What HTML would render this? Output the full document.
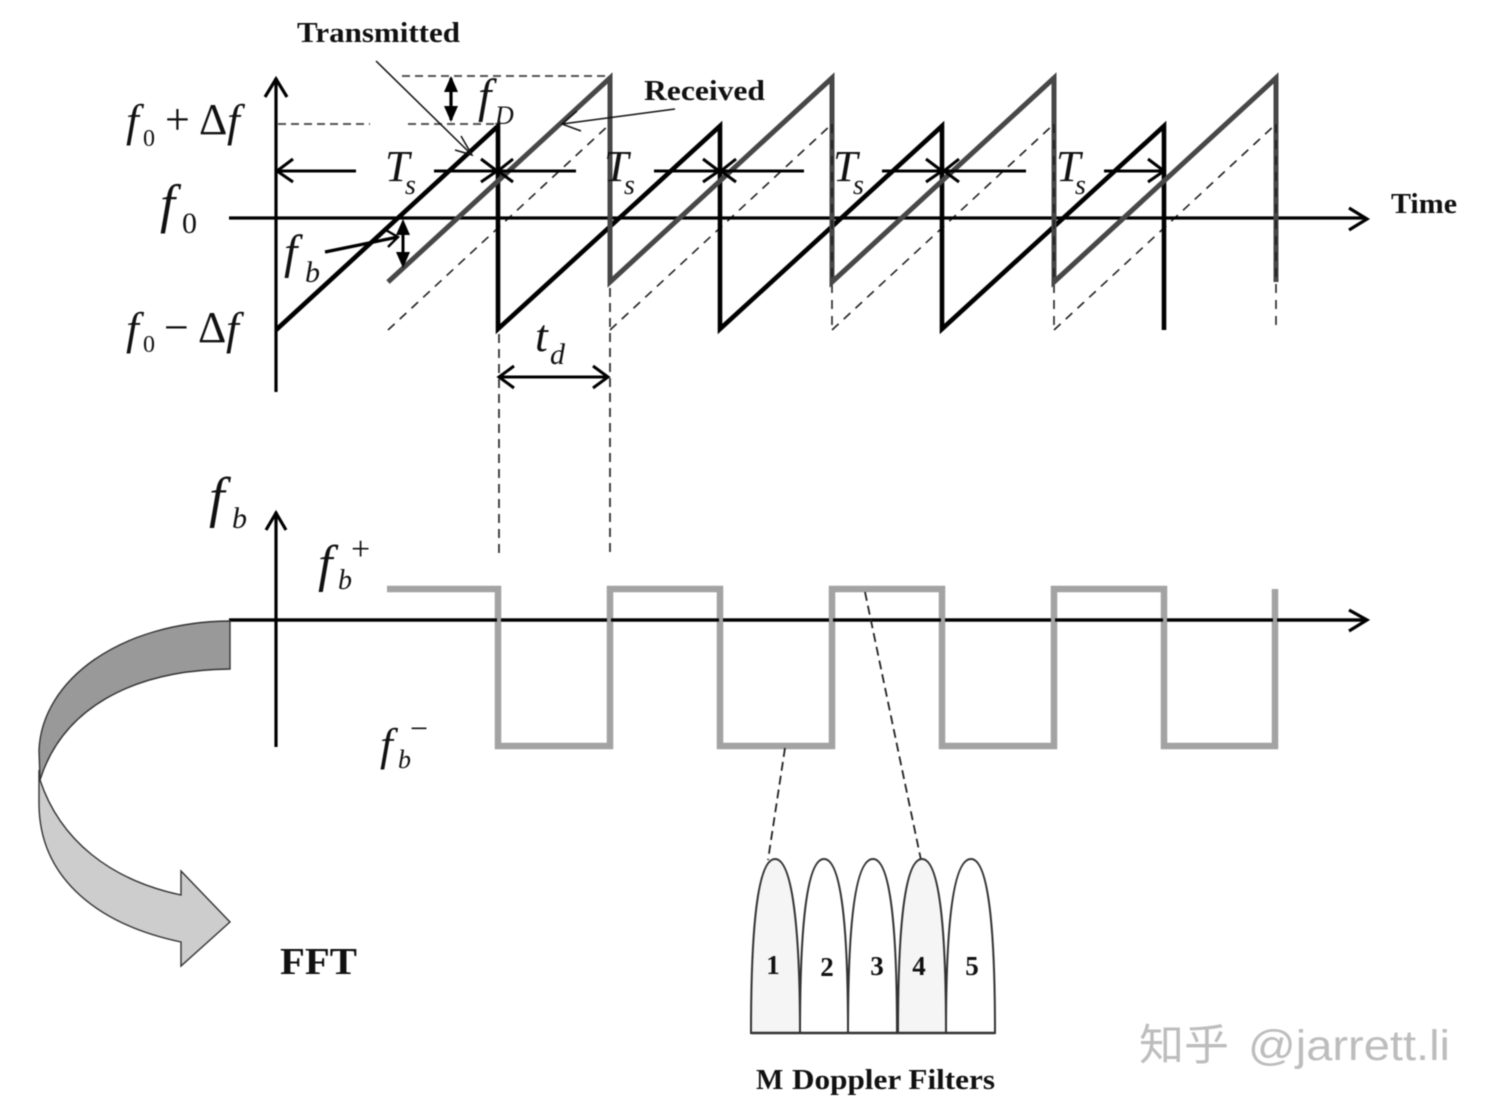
<!DOCTYPE html>
<html><head><meta charset="utf-8">
<style>
html,body{margin:0;padding:0;background:#fff}
svg{display:block;filter:blur(0.45px)}
text{font-family:"Liberation Serif",serif;fill:#111}
.i{font-style:italic}
.b{font-weight:bold}
.wm{font-family:"Liberation Sans","Noto Sans CJK SC",sans-serif;fill:#bdbdbd}
</style></head>
<body>
<svg width="1487" height="1113" viewBox="0 0 1487 1113" xmlns="http://www.w3.org/2000/svg">
<rect width="1487" height="1113" fill="#fff"/>

<!-- thin dashed sawtooth -->
<g fill="none" stroke="#222" stroke-width="1.6" stroke-dasharray="9 7">
<path d="M388 330L610 124"/>
<path d="M610 330L832 124"/>
<path d="M832 330L1054 124"/>
<path d="M1054 330L1276 124"/>
<path d="M832 284V330M1054 284V330M1276 284V326"/>
</g>
<!-- top dashes -->
<g fill="none" stroke="#555" stroke-width="2" stroke-dasharray="8 5">
<path d="M402 76H610"/>
<path d="M278 124H370M408 124H498"/>
</g>
<!-- td droplines -->
<g fill="none" stroke="#333" stroke-width="1.8" stroke-dasharray="9 6">
<path d="M499 334V553"/>
<path d="M610 288V552"/>
</g>

<!-- axes top -->
<g fill="none" stroke="#000" stroke-width="3.2">
<path d="M229 218H1366"/>
<path d="M276 78V392"/>
<path d="M265 97L276 79L287 97"/>
<path d="M1349 208L1367 219L1349 230"/>
</g>

<!-- transmitted (black) -->
<path d="M276 330L498 126V329L720 126V329L942 126V329L1164 126V330" fill="none" stroke="#000" stroke-width="4.6"/>
<!-- received (gray) -->
<path d="M388 282L610 78V282L832 78V282L1054 78V282L1276 78V282" fill="none" stroke="#474747" stroke-width="5"/>
<!-- dashes over the received verticals -->
<path d="M832 124V282M1054 124V282M1276 124V282" fill="none" stroke="#1c1c1c" stroke-width="1.6" stroke-dasharray="9 7"/>

<!-- Ts arrows -->
<g fill="none" stroke="#000" stroke-width="3">
<path d="M276 171H356M293 159L277 171L293 182"/>
<path d="M434 171H496M481 159L497 171L481 182"/>
<path d="M498 171H576M513 159L498 171L513 182"/>
<path d="M654 171H718M703 159L719 171L703 182"/>
<path d="M721 171H804M736 159L721 171L736 182"/>
<path d="M882 171H941M926 159L942 171L926 182"/>
<path d="M944 171H1026M959 159L944 171L959 182"/>
<path d="M1104 171H1163M1148 159L1164 171L1148 182"/>
<path d="M499 377H608M514 366L499 377L514 388M593 366L608 377L593 388"/>
</g>
<!-- fD arrow -->
<path d="M451 78V120" stroke="#000" stroke-width="3.2" fill="none"/>
<path d="M451 76L444 92H458ZM451 122L444 106H458Z" fill="#000"/>
<!-- fb arrow -->
<path d="M403 222V262" stroke="#000" stroke-width="3" fill="none"/>
<path d="M403 219L396 235H410ZM403 268L396 252H410Z" fill="#000"/>
<g fill="none" stroke="#000" stroke-width="3.2">
<path d="M325 252L398 237"/>
<path d="M384 229L398 237L388 247" stroke-width="2.4"/>
</g>
<!-- leader lines -->
<g fill="none" stroke="#111" stroke-width="1.5">
<path d="M376 61L472 155"/>
<path d="M461 136L472 155L455 150"/>
<path d="M675 109L562 124"/>
<path d="M577 111L562 124L581 131"/>
</g>

<!-- lower axes -->
<g fill="none" stroke="#000" stroke-width="3.2">
<path d="M229 620H1366"/>
<path d="M276 512V747"/>
<path d="M266 530L276 513L286 530"/>
<path d="M1349 610L1367 620L1349 631"/>
</g>
<!-- square wave -->
<path d="M387 589H498V746H610V589H720V746H832V589H942V746H1054V589H1164V746H1275V589" fill="none" stroke="#a3a3a3" stroke-width="6.5"/>
<path d="M229 620H1366" fill="none" stroke="#000" stroke-width="3.2" stroke-dasharray="268 4 106 4 108 4 106 4 108 4 106 4 108 4 106 4"/>

<!-- dashed to filters -->
<g fill="none" stroke="#222" stroke-width="1.8" stroke-dasharray="9 5">
<path d="M785 748L768 860"/>
<path d="M865 592L921 860"/>
</g>

<!-- curved FFT arrow -->
<path d="M40 780C60 840 110 880 181 895V871L230 922L181 966V942C100 925 40 880 39 805V770Z" fill="#cdcdcd" stroke="#333" stroke-width="1.4" stroke-linejoin="miter"/>
<path d="M40 780L39 750C42 680 120 622 230 621V669C130 670 62 710 40 780Z" fill="#999" stroke="#333" stroke-width="1.4"/>

<!-- filters -->
<g stroke="#333" stroke-width="2">
<path d="M751 1033C751 950 755 859 775 859C795 859 800 950 800 1033Z" fill="#f5f5f5"/>
<path d="M800 1033C800 950 804 859 824 859C844 859 848 950 848 1033Z" fill="#fff"/>
<path d="M848 1033C848 950 852 859 873 859C893 859 897 950 897 1033Z" fill="#fff"/>
<path d="M898 1033C898 950 902 859 922 859C942 859 946 950 946 1033Z" fill="#f5f5f5"/>
<path d="M946 1033C946 950 950 859 971 859C991 859 995 950 995 1033Z" fill="#fff"/>
<path d="M751 1033H995" stroke-width="2.6" fill="none"/>
</g>
<g font-size="27" text-anchor="middle">
<text class="b" x="773" y="974">1</text>
<text class="b" x="827" y="976">2</text>
<text class="b" x="877" y="975">3</text>
<text class="b" x="919" y="975">4</text>
<text class="b" x="972" y="975">5</text>
</g>

<!-- bold labels -->
<text class="b" x="297" y="42" font-size="28" textLength="163" lengthAdjust="spacingAndGlyphs">Transmitted</text>
<text class="b" x="644" y="100" font-size="28" textLength="121" lengthAdjust="spacingAndGlyphs">Received</text>
<text class="b" x="1391" y="213" font-size="28" textLength="66" lengthAdjust="spacingAndGlyphs">Time</text>
<text class="b" x="280" y="974" font-size="38" textLength="77" lengthAdjust="spacingAndGlyphs">FFT</text>
<text class="b" x="756" y="1089" font-size="29">M</text>
<text class="b" x="792" y="1089" font-size="29" textLength="203" lengthAdjust="spacingAndGlyphs">Doppler Filters</text>

<!-- math labels -->
<text class="i" x="126" y="136" font-size="46">f</text>
<text x="143" y="146" font-size="24">0</text>
<text x="165" y="134" font-size="44">+</text>
<text x="199" y="134" font-size="44">Δ</text>
<text class="i" x="227" y="136" font-size="46">f</text>

<text class="i" x="126" y="344" font-size="46">f</text>
<text x="143" y="352" font-size="24">0</text>
<text x="164" y="342" font-size="44">−</text>
<text x="198" y="342" font-size="44">Δ</text>
<text class="i" x="226" y="344" font-size="46">f</text>

<text class="i" x="160" y="222" font-size="54">f</text>
<text x="182" y="233" font-size="30">0</text>

<text class="i" x="284" y="268" font-size="48">f</text>
<text class="i" x="305" y="282" font-size="30">b</text>

<text class="i" x="478" y="112" font-size="48">f</text>
<text class="i" x="495" y="124" font-size="26">D</text>

<text class="i" x="385" y="181" font-size="44">T</text>
<text class="i" x="405" y="194" font-size="28">s</text>
<text class="i" x="604" y="181" font-size="44">T</text>
<text class="i" x="624" y="194" font-size="28">s</text>
<text class="i" x="833" y="181" font-size="44">T</text>
<text class="i" x="853" y="194" font-size="28">s</text>
<text class="i" x="1056" y="181" font-size="44">T</text>
<text class="i" x="1075" y="194" font-size="28">s</text>

<text class="i" x="535" y="351" font-size="46">t</text>
<text class="i" x="550" y="364" font-size="30">d</text>

<text class="i" x="209" y="516" font-size="56">f</text>
<text class="i" x="232" y="528" font-size="30">b</text>

<text class="i" x="318" y="581" font-size="52">f</text>
<text class="i" x="338" y="589" font-size="28">b</text>
<text x="351" y="560" font-size="34">+</text>

<text class="i" x="380" y="760" font-size="46">f</text>
<text class="i" x="398" y="768" font-size="26">b</text>
<text x="410" y="739" font-size="32">−</text>

<!-- watermark -->
<text class="wm" x="1139" y="1060" font-size="43" textLength="90" lengthAdjust="spacingAndGlyphs">知乎</text>
<text class="wm" x="1248" y="1060" font-size="43" textLength="202" lengthAdjust="spacingAndGlyphs">@jarrett.li</text>
</svg>
</body></html>
